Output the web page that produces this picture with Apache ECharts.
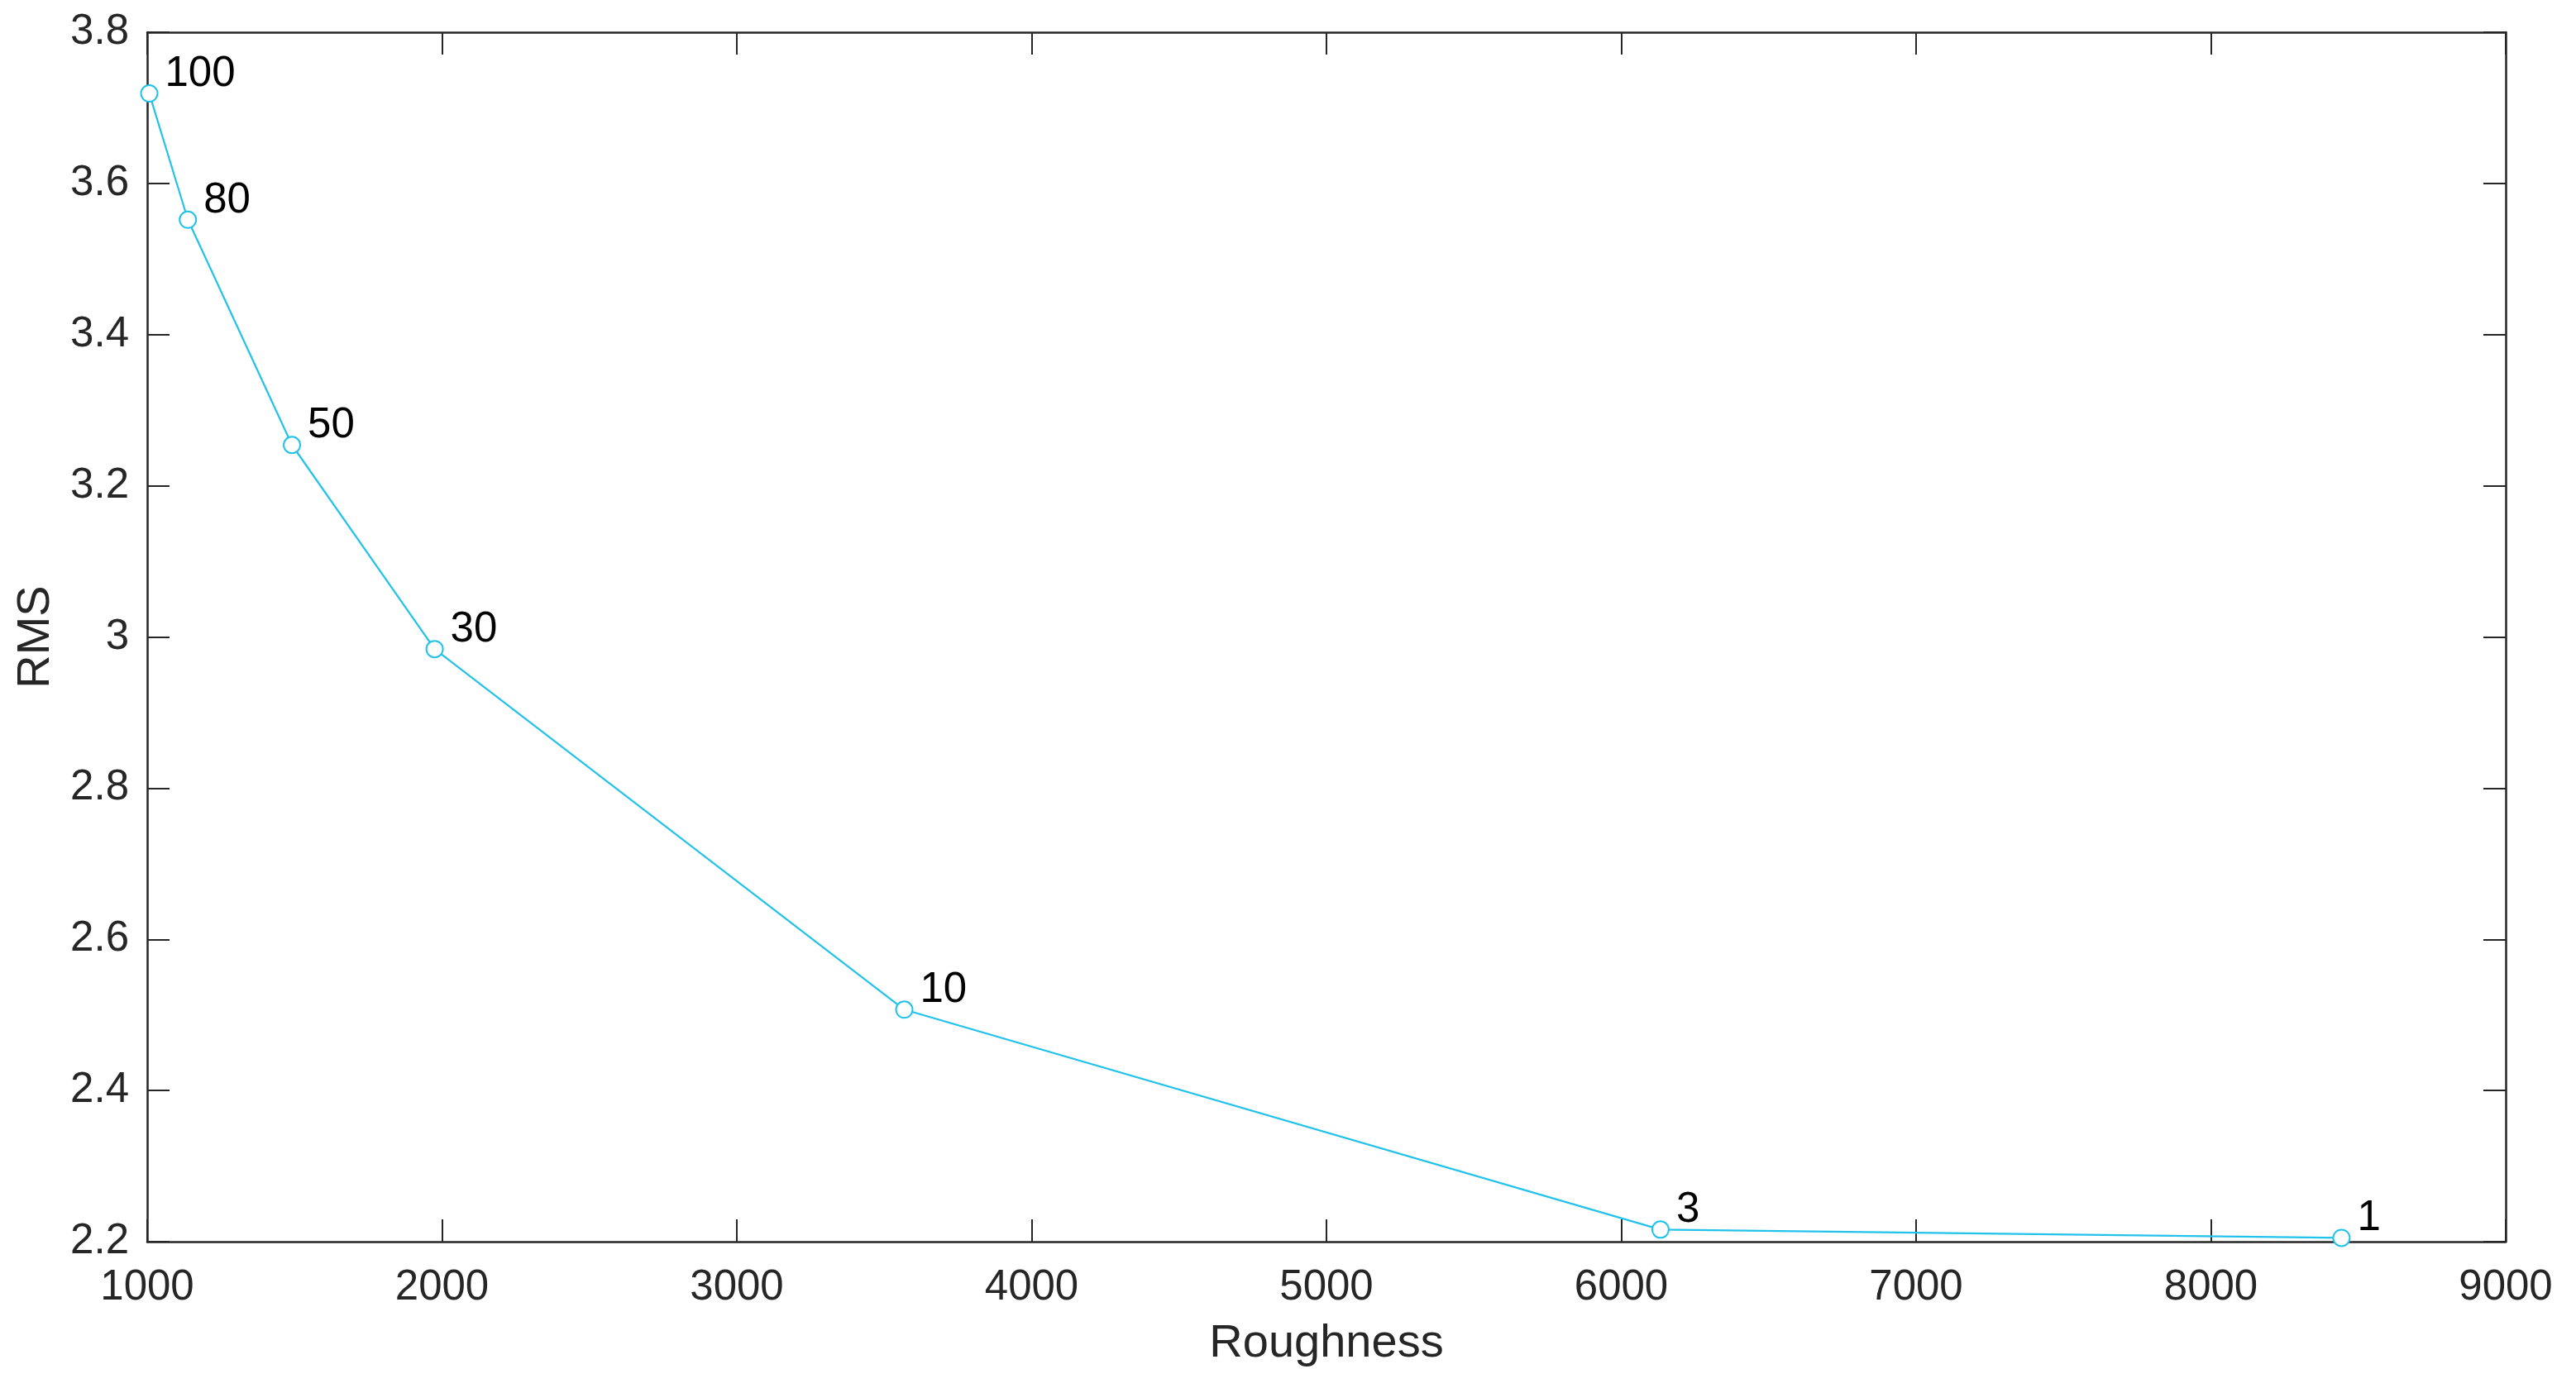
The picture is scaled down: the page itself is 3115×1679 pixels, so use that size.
<!DOCTYPE html>
<html>
<head>
<meta charset="utf-8">
<script src="https://cdn.jsdelivr.net/npm/echarts@6/dist/echarts.min.js"></script>
<style>
  html, body { margin: 0; padding: 0; background: #fff; }
  #chart { width: 3115px; height: 1679px; }
</style>
</head>
<body>
<div id="chart"></div>
<script>
// roughness (x) vs RMS (y), each point tagged with its parameter value
var roughness = [1007, 1138, 1491, 1975, 3568, 6133, 8443];
var rms = [3.719, 3.552, 3.254, 2.984, 2.507, 2.216, 2.205];
var pointTags = ['100', '80', '50', '30', '10', '3', '1'];

var FONT = "'Liberation Sans', Arial, Helvetica, sans-serif";
var AXIS_COLOR = '#262626';
var LINE_COLOR = '#22C2EA';

var chart = echarts.init(document.getElementById('chart'));

var points = [];
for (var i = 0; i < roughness.length; i++) {
  points.push({ value: [roughness[i], rms[i]], tag: pointTags[i] });
}

// shared axis look (box with inward ticks on all four sides)
function xAx(pos, showLabel) {
  return {
    type: 'value', position: pos, min: 1000, max: 9000, interval: 1000,
    name: showLabel ? 'Roughness' : '',
    nameLocation: 'middle', nameGap: 96,
    nameTextStyle: { fontFamily: FONT, fontSize: 56, color: AXIS_COLOR },
    axisLine: { show: true, onZero: false, lineStyle: { color: AXIS_COLOR, width: 2.5 } },
    axisTick: { show: true, inside: true, length: 27, lineStyle: { color: AXIS_COLOR, width: 2 } },
    axisLabel: {
      show: showLabel, margin: 30, fontFamily: FONT, fontSize: 51, color: AXIS_COLOR,
      formatter: function (v) { return String(v); }
    },
    splitLine: { show: false }
  };
}
function yAx(pos, showLabel) {
  return {
    type: 'value', position: pos, min: 2.2, max: 3.8, interval: 0.2,
    name: showLabel ? 'RMS' : '',
    nameLocation: 'middle', nameGap: 106,
    nameTextStyle: { fontFamily: FONT, fontSize: 56, color: AXIS_COLOR },
    axisLine: { show: true, onZero: false, lineStyle: { color: AXIS_COLOR, width: 2.5 } },
    axisTick: { show: true, inside: true, length: 27, lineStyle: { color: AXIS_COLOR, width: 2 } },
    axisLabel: {
      show: showLabel, margin: 22, fontFamily: FONT, fontSize: 51, color: AXIS_COLOR,
      formatter: function (v) { return +v.toFixed(1) + ''; }
    },
    splitLine: { show: false }
  };
}

var option = {
  backgroundColor: '#fff',
  animation: false,
  grid: { left: 178, right: 85, top: 39, bottom: 177, containLabel: false },
  xAxis: [xAx('bottom', true), xAx('top', false)],
  yAxis: [yAx('left', true), yAx('right', false)],
  series: [{
    type: 'line',
    xAxisIndex: 0,
    yAxisIndex: 0,
    data: points,
    symbol: 'emptyCircle',
    symbolSize: 20,
    lineStyle: { color: LINE_COLOR, width: 2.2 },
    itemStyle: { color: LINE_COLOR, borderColor: LINE_COLOR, borderWidth: 2.2 },
    label: {
      show: true,
      position: 'right',
      distance: 8,
      offset: [0, -23],
      fontFamily: FONT,
      fontSize: 51,
      color: '#000',
      formatter: function (p) { return p.data.tag; }
    }
  }]
};

chart.setOption(option);
window.addEventListener('resize', function () {
  chart.resize();
});
</script>
</body>
</html>
